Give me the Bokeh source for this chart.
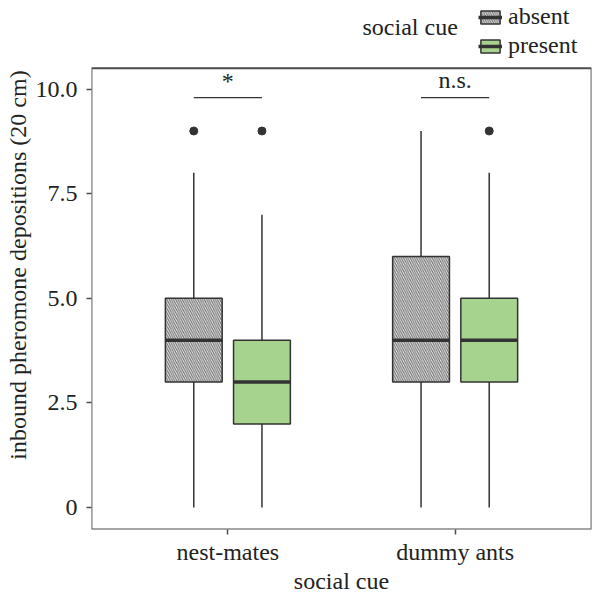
from bokeh.plotting import figure
from bokeh.models import (ColumnDataSource, FactorRange, FixedTicker, Legend, LegendItem,
                          Label, BoxAnnotation)
from bokeh.transform import dodge
from bokeh.core.properties import value
from bokeh.embed import file_html
from bokeh.resources import INLINE

# ---- data ----
groups = ["nest-mates", "dummy ants"]
conditions = ["absent", "present"]

absent_low = [0, 0]
absent_q1 = [3, 3]
absent_med = [4, 4]
absent_q3 = [5, 6]
absent_high = [8, 9]
absent_outlier_groups = ["nest-mates"]
absent_outlier_values = [9]

present_low = [0, 0]
present_q1 = [2, 3]
present_med = [3, 4]
present_q3 = [4, 5]
present_high = [7, 8]
present_outlier_groups = ["nest-mates", "dummy ants"]
present_outlier_values = [9, 9]

sig_labels = ["*", "n.s."]
sig_line_y = [9.8, 9.8]
sig_text_y = [9.88, 9.9]

y_ticks = [0, 2.5, 5.0, 7.5, 10.0]
y_tick_labels = ["0", "2.5", "5.0", "7.5", "10.0"]

# panel limits (data units); the area above Y_TOP holds the legend
Y_BOTTOM = -0.524
Y_TOP = 10.5
Y_END = Y_BOTTOM + 531 / 42.0

FONT = "Liberation Serif"
DARK = "#333333"
FRAME = "#4d4d4d"
GREEN = "#a6d38d"

p = figure(width=593, height=596,
           x_range=FactorRange(factors=groups, range_padding=0.1),
           y_range=(Y_BOTTOM, Y_END),
           output_backend="svg", toolbar_location=None,
           min_border_left=91, min_border_right=2,
           min_border_top=0, min_border_bottom=65)
p.xgrid.visible = False
p.ygrid.visible = False
p.outline_line_color = None
p.background_fill_color = "white"
p.border_fill_color = "white"

# panel box (frame of the plotting panel)
p.add_layout(BoxAnnotation(top=Y_TOP, fill_color=None, fill_alpha=0,
                           line_color=FRAME, line_alpha=1.0,
                           line_width=1.8, level="underlay"))

BOX_W = 0.25
OFF = 0.15

box_renderers = {}
med_renderers = {}
specs = [
    ("absent", -OFF, absent_low, absent_q1, absent_med, absent_q3, absent_high,
     absent_outlier_groups, absent_outlier_values,
     dict(fill_color="white", hatch_pattern="\\", hatch_color="#7a7a7a",
          hatch_scale=4.4, hatch_weight=1.3)),
    ("present", OFF, present_low, present_q1, present_med, present_q3, present_high,
     present_outlier_groups, present_outlier_values,
     dict(fill_color=GREEN)),
]
for name, off, low, q1, med, q3, high, og, ov, fill in specs:
    src = ColumnDataSource(dict(group=groups, low=low, q1=q1, med=med, q3=q3, high=high))
    xs = dodge("group", off, range=p.x_range)
    p.segment(x0=xs, x1=xs, y0="q3", y1="high", source=src, line_color=DARK, line_width=1.5)
    p.segment(x0=xs, x1=xs, y0="low", y1="q1", source=src, line_color=DARK, line_width=1.5)
    box_renderers[name] = p.vbar(x=xs, width=BOX_W, bottom="q1", top="q3", source=src,
                                 line_color=DARK, line_width=1.5, **fill)
    med_renderers[name] = p.segment(x0=dodge("group", off - BOX_W / 2, range=p.x_range),
                                    x1=dodge("group", off + BOX_W / 2, range=p.x_range),
                                    y0="med", y1="med", source=src,
                                    line_color=DARK, line_width=3.5)
    osrc = ColumnDataSource(dict(group=og, val=ov))
    p.scatter(x=xs, y="val", source=osrc, size=8, color=DARK)

# significance annotations
ssrc = ColumnDataSource(dict(group=groups, ly=sig_line_y, ty=sig_text_y, lab=sig_labels))
p.segment(x0=dodge("group", -OFF, range=p.x_range), x1=dodge("group", OFF, range=p.x_range),
          y0="ly", y1="ly", source=ssrc, line_color=DARK, line_width=1.2)
p.text(x="group", y="ty", text="lab", source=ssrc, text_align="center",
       text_baseline="bottom", text_font=value(FONT),
       text_font_size="24px", text_color="#222222")

# axes
for ax in (p.xaxis[0], p.yaxis[0]):
    ax.axis_line_color = None
    ax.major_tick_line_color = FRAME
    ax.major_tick_line_width = 1.5
    ax.major_tick_out = 5
    ax.major_tick_in = 0
    ax.minor_tick_line_color = None
    ax.major_label_text_font = FONT
    ax.major_label_text_font_size = "24px"
    ax.major_label_text_color = "#222222"
    ax.axis_label_text_font = FONT
    ax.axis_label_text_font_size = "24px"
    ax.axis_label_text_font_style = "normal"
    ax.axis_label_text_color = "#222222"

p.yaxis.ticker = FixedTicker(ticks=y_ticks)
p.yaxis.major_label_overrides = {t: l for t, l in zip(y_ticks, y_tick_labels)}
p.yaxis.axis_label = "inbound pheromone depositions (20 cm)"
p.yaxis.major_label_standoff = 9
p.yaxis.axis_label_standoff = 2
p.xaxis.axis_label = "social cue"
p.xaxis.major_label_standoff = 4
p.xaxis.axis_label_standoff = 0

legend = Legend(items=[
    LegendItem(label=c, renderers=[box_renderers[c], med_renderers[c]]) for c in conditions
], orientation="vertical",
    location=(387, 470), border_line_color=None, background_fill_alpha=0,
    padding=0, margin=0, spacing=2, glyph_width=24, glyph_height=16,
    label_height=24, label_standoff=6,
    label_text_font=FONT, label_text_font_size="24px", label_text_color="#222222")
p.add_layout(legend, "center")

legend_title = Label(x=271, y=503, x_units="screen", y_units="screen",
                     text="social cue", text_font=FONT, text_font_size="24px",
                     text_color="#222222", text_baseline="middle", text_align="left")
p.add_layout(legend_title)

open("out.html", "w").write(file_html(p, INLINE))
